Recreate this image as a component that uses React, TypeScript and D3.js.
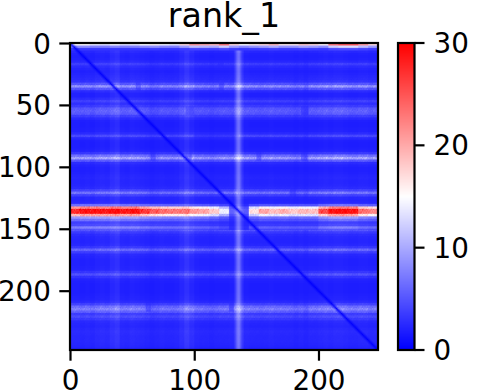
import React, { useMemo } from "react";
import * as d3 from "d3";

const title = "rank_1";
const residues = 248;
const xTicks = [0, 100, 200];
const yTicks = [0, 50, 100, 150, 200];
const cbTicks = [0, 10, 20, 30];

// Row brightness, one value per 2 rows
const rowLevels = [
  21, 11, 4, 2.2, 1.8, 1.7, 1.8, 2.2, 3.4, 2.4, 2, 1.8, 2, 2.2, 2.4, 2.8, 4.8, 8.4, 4.8, 2.4,
  1.8, 1.8, 2.4, 3.6, 2.6, 3.4, 5, 5.4, 5, 3.4, 2.3, 1.7, 1.6, 1.6, 1.7, 1.8, 2.4, 4, 2.2, 1.7,
  1.6, 1.6, 1.7, 1.9, 3.2, 6.4, 9.4, 5, 2.4, 1.9, 1.7, 1.7, 1.8, 2, 2.1, 2, 2, 2.1, 2.4, 3.8,
  6.6, 3.6, 2.2, 2.1, 2.3, 6.5, 22, 29, 29, 20, 9, 6.4, 3.6, 4.2, 7.4, 4.8, 3.2, 2.4, 2.1, 2,
  2, 2.2, 3.2, 5.8, 3.4, 2.2, 2, 1.8, 1.8, 1.8, 1.9, 2, 3, 4.6, 2.8, 1.9, 1.7, 1.6, 1.6, 1.6,
  1.6, 1.7, 1.8, 1.9, 2.3, 3.8, 6.2, 7.4, 5.6, 3.4, 4.2, 3.2, 2.3, 2.1, 2, 2.2, 2.4, 2.3, 2.2, 2.2, 2.2, 2.1, 2, 1.8,
];

// Column gain, one value per 4 columns
const colGain = [
  1, 1, 0.95, 1, 0.9, 1, 1.05, 1, 1.05, 1.15, 0.95, 1, 1.05, 1, 1, 0.9, 0.75, 0.8, 0.9, 0.9,
  0.85, 0.85, 0.95, 1.1, 1.05, 0.9, 0.9, 0.85, 0.8, 0.85, 0.95, 0.95, 0.85, 1, 1.05, 1, 1, 0.95, 0.9, 0.95,
  1, 0.95, 0.95, 0.95, 0.9, 0.8, 0.9, 0.75, 1, 1, 1.05, 1.1, 1.05, 1.15, 1.15, 1.1, 1, 1, 1.05, 1.05, 0.95, 1,
];

// Extra column brightness, one value per 4 columns
const colLift = [
  0.2, 0.2, 0.1, 0.2, 0.1, 0.3, 0.4, 0.3, 0.7, 1, 0.3, 0.2, 0.4, 0.3, 0.2, 0.1, 0, 0.1, 0.2, 0.1,
  0.1, 0.2, 0.6, 1.2, 0.6, 0.2, 0.1, 0.1, 0, 0.1, 0.1, 0.1, 0.2, 0.3, 0.3, 0.2, 0.1, 0.1, 0.1, 0.1,
  0.2, 0.1, 0.1, 0.1, 0.1, 0, 0.1, 0, 0.1, 0.1, 0.2, 0.3, 0.2, 0.3, 0.3, 0.2, 0.1, 0.1, 0.2, 0.2, 0.1, 0.1,
];

// The bright column, as [column, extra brightness]
const brightColumn = [[132, 0.8], [133, 2], [134, 3.8], [135, 4.6], [136, 4.2], [137, 2.6], [138, 1.2], [139, 0.6]];

// Strength of the strong band near row 135, one value per 8 columns
const bandGain = [
  0.95, 1.02, 1.02, 1, 1.02, 1, 1.02, 0.92, 0.85, 0.8, 0.78, 0.76, 0.7, 0.68, 0.6, 0.45, 0.14, 0.12,
  0.55, 0.68, 0.62, 0.66, 0.6, 0.64, 0.62, 0.88, 1.02, 1.04, 1.02, 0.8, 0.75, 0.75,
];

// Strength of the top band, one value per 8 columns
const topGain = [
  0.7, 0.7, 0.62, 0.6, 0.66, 0.6, 0.62, 0.68, 0.72, 0.65, 0.62, 0.8, 1, 0.95, 0.9, 1.1, 0.8, 0.68,
  0.75, 0.8, 0.9, 0.75, 0.75, 0.85, 0.8, 0.72, 1.1, 1.2, 1.2, 1, 0.8, 0.72,
];

// Speckle along the bands, read as short runs of the pale rows
const bandSpeckle = [1, 0.85, 1.1, 0.92, 1.18, 0.8, 1.05, 0.95, 1.22, 0.88, 1, 0.78, 1.12, 0.9, 1.2, 1.02, 0.84, 1.08, 0.94];

// Rows whose band fades, as [row, first column, last column]
const bandGaps = [
  [35, 53, 56], [35, 120, 123], [91, 93, 97], [91, 150, 153], [91, 186, 190], [91, 65, 68], [120, 135, 137],
  [120, 177, 181], [213, 61, 64], [213, 128, 131], [54, 93, 99], [54, 186, 191], [16, 119, 123], [72, 100, 135],
];

const blueWhiteRed = d3.scaleLinear<string>().domain([0, 15, 30]).range(["#0000ff", "#ffffff", "#ff0000"]).clamp(true);

function cellValue(r: number, c: number) {
  const level = rowLevels[Math.min(rowLevels.length - 1, r >> 1)];
  const gain = colGain[Math.min(colGain.length - 1, c >> 2)];
  const bright = brightColumn.find((b) => b[0] === c);
  const lift = colLift[Math.min(colLift.length - 1, c >> 2)] + (bright ? bright[1] : 0);
  const speck = bandSpeckle[(c + r * 7) % bandSpeckle.length];
  let v = 1.8 + (level - 1.8) * gain * (level > 1.8 ? speck : 1);
  if (r >= 126 && r <= 150) v = 1.8 + (level - 1.8) * bandGain[c >> 3] * (0.5 + 0.5 * speck);
  if (r <= 5) v = 1.8 + (level - 1.8) * topGain[c >> 3];
  for (const [gr, a, b] of bandGaps) {
    if (Math.abs(r - gr) <= 3 && c >= a && c <= b) v = Math.min(v, 0.55 * v + 1);
  }
  v += lift * (r <= 5 ? 0 : 1);
  const d = Math.abs(r - c);
  if (d === 0) v = 0;
  else if (d <= 3) v *= 0.2 + (0.8 * d) / 3;
  return v;
}

function heatmapUrl() {
  const canvas = document.createElement("canvas");
  canvas.width = residues;
  canvas.height = residues;
  const ctx = canvas.getContext("2d")!;
  for (let r = 0; r < residues; r++) {
    for (let c = 0; c < residues; c++) {
      ctx.fillStyle = blueWhiteRed(cellValue(r, c));
      ctx.fillRect(c, r, 1, 1);
    }
  }
  return canvas.toDataURL();
}

function colorbarUrl() {
  const canvas = document.createElement("canvas");
  canvas.width = 1;
  canvas.height = 256;
  const ctx = canvas.getContext("2d")!;
  for (let i = 0; i < 256; i++) {
    ctx.fillStyle = blueWhiteRed(30 - (i / 255) * 30);
    ctx.fillRect(0, i, 1, 1);
  }
  return canvas.toDataURL();
}

export default function App() {
  const plot = { left: 70, right: 378, top: 43, bottom: 350 };
  const bar = { left: 398, right: 414.5 };
  const x = d3.scaleLinear().domain([0, residues - 0.5]).range([plot.left + 0.5, plot.right]);
  const y = d3.scaleLinear().domain([0, residues - 0.5]).range([plot.top + 0.5, plot.bottom]);
  const cb = d3.scaleLinear().domain([0, 30]).range([plot.bottom, plot.top]);
  const hm = useMemo(heatmapUrl, []);
  const cbar = useMemo(colorbarUrl, []);
  const font = { fontFamily: "DejaVu Sans", fontSize: 27.8, fill: "#000" };
  const w = plot.right - plot.left;
  const h = plot.bottom - plot.top;
  return (
    <svg width={484} height={392} style={{ position: "absolute", left: 0, top: 0 }}>
      <rect width={484} height={392} fill="#fff" />
      <image href={hm} x={plot.left} y={plot.top} width={w} height={h} preserveAspectRatio="none" />
      <rect x={plot.left} y={plot.top} width={w} height={h} fill="none" stroke="#000" strokeWidth={2.2} />
      {xTicks.map((t) => (
        <g key={t}>
          <line x1={x(t)} x2={x(t)} y1={plot.bottom} y2={plot.bottom + 10.7} stroke="#000" strokeWidth={2.2} />
          <text x={x(t)} y={plot.bottom + 40} textAnchor="middle" {...font}>{t}</text>
        </g>
      ))}
      {yTicks.map((t) => (
        <g key={t}>
          <line x1={plot.left - 10.7} x2={plot.left} y1={y(t)} y2={y(t)} stroke="#000" strokeWidth={2.2} />
          <text x={plot.left - 19} y={y(t) + 10} textAnchor="end" {...font}>{t}</text>
        </g>
      ))}
      <text x={224} y={27} textAnchor="middle" fontFamily="DejaVu Sans" fontSize={33.3} fill="#000">{title}</text>
      <image href={cbar} x={bar.left} y={plot.top} width={bar.right - bar.left} height={h} preserveAspectRatio="none" />
      <rect x={bar.left} y={plot.top} width={bar.right - bar.left} height={h} fill="none" stroke="#000" strokeWidth={2.2} />
      {cbTicks.map((t) => (
        <g key={t}>
          <line x1={bar.right} x2={bar.right + 10} y1={cb(t)} y2={cb(t)} stroke="#000" strokeWidth={2.2} />
          <text x={bar.right + 19} y={cb(t) + 10} {...font}>{t}</text>
        </g>
      ))}
    </svg>
  );
}
